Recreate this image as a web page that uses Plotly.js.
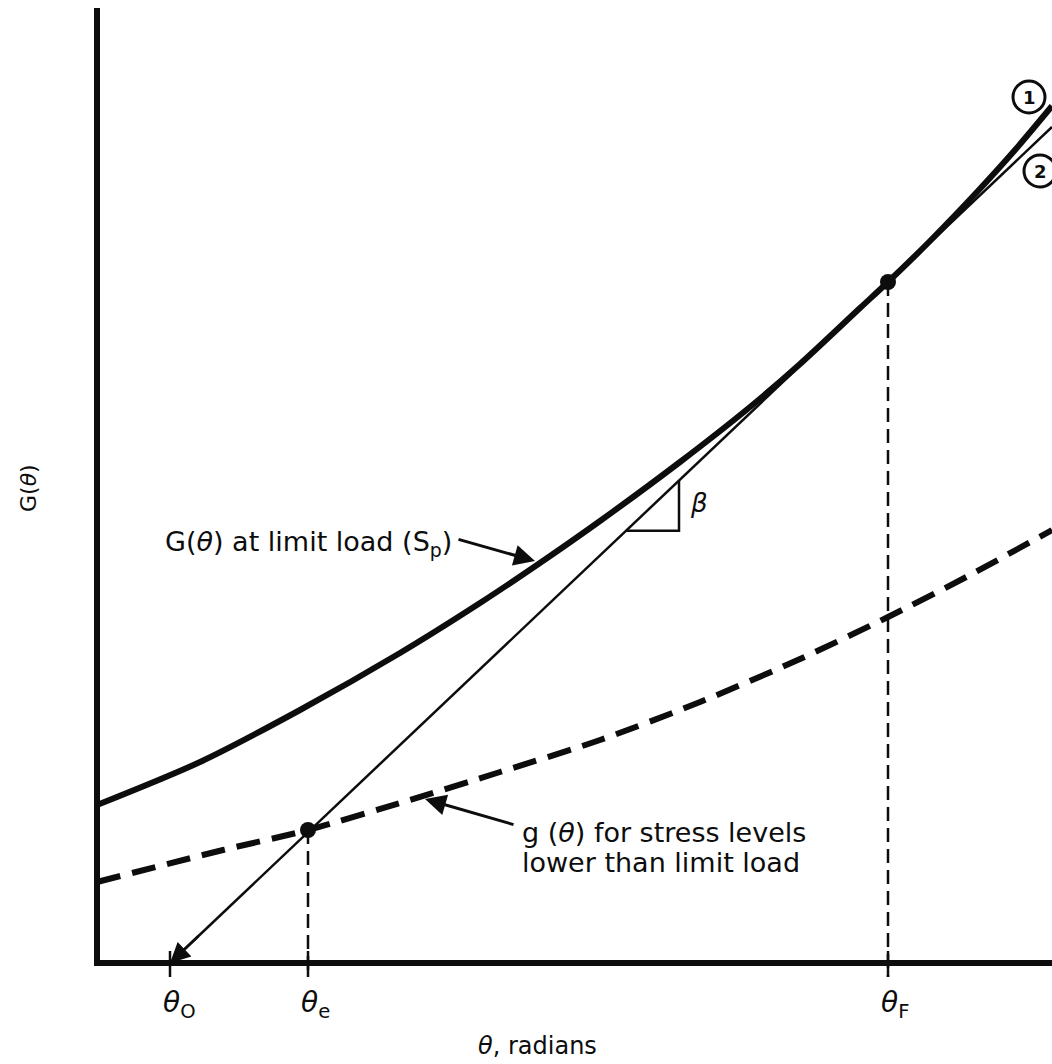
<!DOCTYPE html>
<html>
<head>
<meta charset="utf-8">
<script src="https://cdn.plot.ly/plotly-3.0.1.min.js"></script>
<style>html,body{margin:0;padding:0;background:#fff;}#chart{width:1052px;height:1064px;}</style>
</head>
<body>
<div id="chart"></div>
<script>
// Curve G(theta) at limit load (solid)
const limitX = [0, 103, 203, 303, 383, 440, 503, 583, 653, 703, 763, 791, 833, 880, 918, 955];
const limitY = [158, 201, 253, 310, 360, 398, 442, 501, 556, 599, 655, 681, 722, 771, 813, 857];
// Curve g(theta) for lower stress levels (dashed)
const lowerX = [0, 126, 211, 313, 403, 503, 603, 703, 791, 873, 955];
const lowerY = [81, 113, 133, 163, 191, 223, 261, 304, 346, 388, 433];
// Straight line from theta_O
const tangentX = [73, 955];
const tangentY = [0, 836];
// Marked points theta_e and theta_F
const markX = [211, 791];
const markY = [133, 681];
// Tick positions and labels
const tickVals = [73, 211, 791];
const tickSubs = ['O', 'e', 'F'];

const FONT = 'DejaVu Sans, Liberation Sans, sans-serif';
const INK = '#0d0d0d';
const slope = (tangentY[1] - tangentY[0]) / (tangentX[1] - tangentX[0]);
const lineAt = x => tangentY[0] + slope * (x - tangentX[0]);

const traces = [
  {x: limitX, y: limitY, mode: 'lines', line: {color: INK, width: 6, shape: 'spline', smoothing: 0.8}, hoverinfo: 'skip'},
  {x: lowerX, y: lowerY, mode: 'lines', line: {color: INK, width: 6, shape: 'spline', smoothing: 0.8, dash: '24px,12px'}, hoverinfo: 'skip'},
  {x: tangentX, y: tangentY, mode: 'lines', line: {color: INK, width: 2.5}, hoverinfo: 'skip'}
];
markX.forEach((mx, i) => {
  traces.push({x: [mx, mx], y: [markY[i], -14], mode: 'lines', line: {color: INK, width: 2.5, dash: '14px,7px'}, hoverinfo: 'skip'});
});
traces.push({x: markX, y: markY, mode: 'markers', marker: {color: INK, size: 16}, hoverinfo: 'skip'});

const shapes = [
  {type: 'line', x0: -3, y0: 0, x1: 955, y1: 0, line: {color: INK, width: 6}},
  {type: 'line', x0: 0, y0: -3, x1: 0, y1: 955, line: {color: INK, width: 6}}
];
tickVals.forEach(t => shapes.push({type: 'line', x0: t, x1: t, y0: -14, y1: 12, line: {color: INK, width: 2.5}}));
// beta triangle on the tangent line
const bx0 = 529, bx1 = 582;
shapes.push({type: 'path', path: `M ${bx0},${lineAt(bx0)} L ${bx1},${lineAt(bx0)} L ${bx1},${lineAt(bx1)}`, line: {color: INK, width: 2.5}});
// circled labels
shapes.push({type: 'circle', x0: 916, x1: 948, y0: 850, y1: 882, line: {color: INK, width: 3}});
shapes.push({type: 'circle', x0: 927, x1: 959, y0: 776, y1: 808, line: {color: INK, width: 3}});

// paper coordinates for text outside the data range
const plotBottomPx = 978, plotHeight = 970, plotLeftPx = 87, plotWidth = 965;
const py = p => (plotBottomPx - p) / plotHeight;
const px = p => (p - plotLeftPx) / plotWidth;

const annotations = [];
tickVals.forEach((t, i) => {
  annotations.push({x: t, y: py(984), xref: 'x', yref: 'paper', xanchor: 'left', yanchor: 'top', xshift: -9, showarrow: false,
    text: '<i>θ</i><sub>' + tickSubs[i] + '</sub>', font: {family: FONT, size: 28, color: INK}});
});
annotations.push({x: 440, y: py(1030), xref: 'x', yref: 'paper', xanchor: 'center', yanchor: 'top', showarrow: false,
  text: '<i>θ</i>, radians', font: {family: FONT, size: 24, color: INK}});
annotations.push({x: px(28), y: py(488), xref: 'paper', yref: 'paper', xanchor: 'center', yanchor: 'middle', showarrow: false, textangle: -90,
  text: 'G(<i>θ</i>)', font: {family: FONT, size: 22, color: INK}});
annotations.push({x: 66, y: 420, xref: 'x', yref: 'y', xanchor: 'left', yanchor: 'middle', showarrow: false,
  text: 'G(<i>θ</i>) at limit load (S<sub>p</sub>)', font: {family: FONT, size: 27, color: INK}});
annotations.push({x: 438, y: 402, ax: 360, ay: 424, xref: 'x', yref: 'y', axref: 'x', ayref: 'y', text: '', showarrow: true,
  arrowhead: 2, arrowsize: 1.4, arrowwidth: 3, arrowcolor: INK, standoff: 0});
annotations.push({x: 423, y: 131, xref: 'x', yref: 'y', xanchor: 'left', yanchor: 'middle', showarrow: false,
  text: 'g (<i>θ</i>) for stress levels', font: {family: FONT, size: 27, color: INK}});
annotations.push({x: 423, y: 101, xref: 'x', yref: 'y', xanchor: 'left', yanchor: 'middle', showarrow: false,
  text: 'lower than limit load', font: {family: FONT, size: 27, color: INK}});
annotations.push({x: 328, y: 164, ax: 418, ay: 138, xref: 'x', yref: 'y', axref: 'x', ayref: 'y', text: '', showarrow: true,
  arrowhead: 2, arrowsize: 1.4, arrowwidth: 3, arrowcolor: INK, standoff: 0});
annotations.push({x: tangentX[0], y: tangentY[0], ax: tangentX[0] + 30, ay: lineAt(tangentX[0] + 30), xref: 'x', yref: 'y', axref: 'x', ayref: 'y',
  text: '', showarrow: true, arrowhead: 2, arrowsize: 1.6, arrowwidth: 2.5, arrowcolor: INK, standoff: 0});
annotations.push({x: 591, y: 460, xref: 'x', yref: 'y', xanchor: 'left', yanchor: 'middle', showarrow: false,
  text: '<i>β</i>', font: {family: FONT, size: 26, color: INK}});
annotations.push({x: 932, y: 866, xref: 'x', yref: 'y', xanchor: 'center', yanchor: 'middle', showarrow: false,
  text: '<b>1</b>', font: {family: FONT, size: 18, color: INK}});
annotations.push({x: 943, y: 792, xref: 'x', yref: 'y', xanchor: 'center', yanchor: 'middle', showarrow: false,
  text: '<b>2</b>', font: {family: FONT, size: 18, color: INK}});

const layout = {
  width: 1052, height: 1064,
  margin: {l: 87, r: 0, t: 8, b: 86},
  paper_bgcolor: '#fff', plot_bgcolor: '#fff',
  showlegend: false,
  xaxis: {range: [-10, 955], visible: false, fixedrange: true},
  yaxis: {range: [-15, 955], visible: false, fixedrange: true},
  shapes: shapes,
  annotations: annotations
};
Plotly.newPlot('chart', traces, layout, {displayModeBar: false, staticPlot: true});
</script>
</body>
</html>
